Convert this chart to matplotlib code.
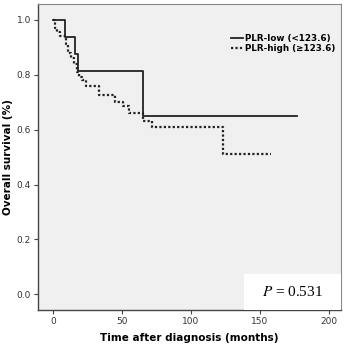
import matplotlib.pyplot as plt
from matplotlib.patches import Rectangle

plt.rcParams['mathtext.fontset'] = 'stix'

# Kaplan-Meier steps
low_t = [0, 8.5, 15.5, 18, 65, 177]
low_s = [1.0, 0.9375, 0.875, 0.8125, 0.65, 0.65]

high_t = [0, 1, 3, 5, 9, 11, 13, 15, 17, 19, 21, 24, 33, 45, 51, 55, 65, 72, 123, 158]
high_s = [1.0, 0.97, 0.955, 0.94, 0.91, 0.88, 0.86, 0.84, 0.81, 0.79, 0.78, 0.757,
          0.725, 0.70, 0.685, 0.66, 0.63, 0.61, 0.51, 0.51]

labels = ['PLR-low (<123.6)', 'PLR-high (\u2265123.6)']
p_text = '$P$ = 0.531'

fig = plt.figure(figsize=(3.49, 3.45), dpi=100)
ax = fig.add_axes([0.109, 0.101, 0.868, 0.887])
ax.set_facecolor('#f0f0f0')

ax.step(low_t, low_s, where='post', color='#222222', lw=1.3, label=labels[0])
ax.step(high_t, high_s, where='post', color='#222222', lw=1.6, ls=(0, (1, 1)),
        label=labels[1])

ax.set_xlim(-11, 209)
ax.set_ylim(-0.057, 1.056)
ax.set_xticks([0, 50, 100, 150, 200])
ax.set_yticks([0.0, 0.2, 0.4, 0.6, 0.8, 1.0])
ax.set_yticklabels(['{:.1f}'.format(v) for v in ax.get_yticks()])
ax.tick_params(labelsize=6.5, labelcolor='#333333', length=3, width=0.8, color='#444444',
               pad=2)

for side in ['top', 'right']:
    ax.spines[side].set_color('#888888')
for side in ['left', 'bottom']:
    ax.spines[side].set_color('#444444')
    ax.spines[side].set_linewidth(1.0)

ax.set_xlabel('Time after diagnosis (months)', fontsize=7.5, fontweight='bold', labelpad=5)
ax.set_ylabel('Overall survival (%)', fontsize=7.5, fontweight='bold', labelpad=3)

leg = ax.legend(loc='upper right', bbox_to_anchor=(1.0, 0.92), frameon=False,
                prop={'size': 6.3, 'weight': 'bold'}, handlelength=1.3,
                handletextpad=0.3, labelspacing=0.1, borderaxespad=0.2)

ax.add_patch(Rectangle((0.68, 0.0), 0.32, 0.118, transform=ax.transAxes,
                       facecolor='white', edgecolor='none', zorder=3))
ax.text(0.84, 0.059, p_text, transform=ax.transAxes, ha='center', va='center',
        fontsize=11, family='Liberation Serif', zorder=4)

fig.savefig('out.png', dpi=100)
